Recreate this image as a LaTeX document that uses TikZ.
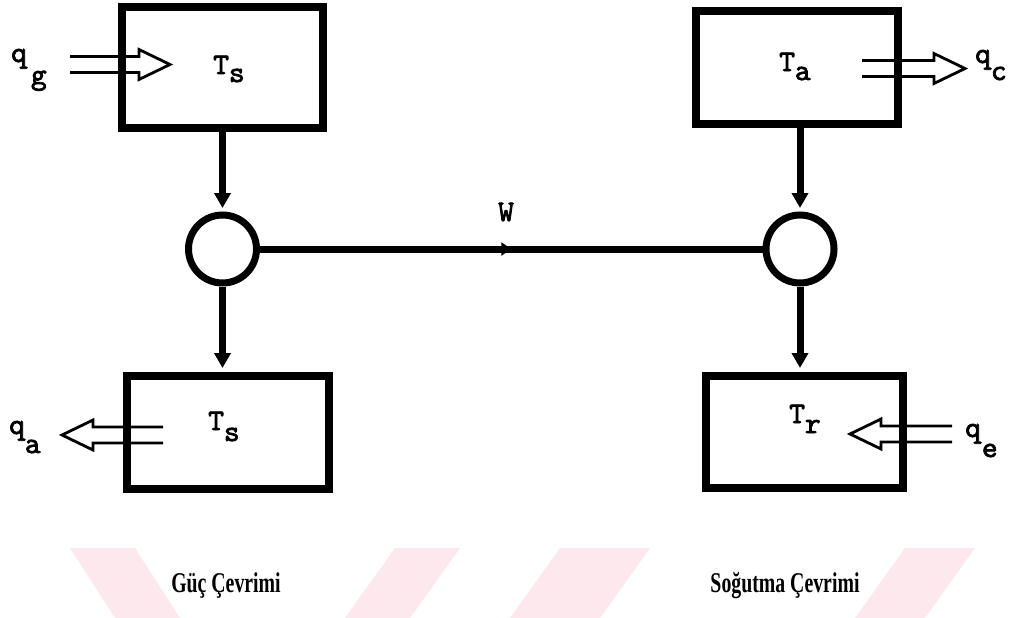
\documentclass[tikz,border=0pt]{standalone}
\usepackage{fontspec}
\usepackage{graphicx}
\setmainfont{Liberation Serif}
\newfontfamily\symfont{lmmono10-regular.otf}[FakeBold=2.5]
\usetikzlibrary{arrows.meta,calc,decorations.markings}
\definecolor{wm}{RGB}{253,232,237}
\newcommand\hollowarrow[3]{% #1 tail, #2 tip, #3 = 1 right, -1 left
  \draw[heat] ($(#1)+(0,-8)$) -- ($(#2)+({-31*#3},-8)$) -- ($(#2)+({-31*#3},-15)$) -- (#2)
    -- ($(#2)+({-31*#3},15)$) -- ($(#2)+({-31*#3},8)$) -- ($(#1)+(0,8)$);}
\begin{document}
\begin{tikzpicture}[x=1pt,y=-1pt,
  box/.style={draw,line width=8pt,rectangle,inner sep=0pt},
  ring/.style={draw,line width=7pt,circle,inner sep=0pt,minimum size=68pt},
  flow/.style={line width=7pt,-{Triangle[width=16pt,length=15pt]}},
  heat/.style={line width=2.8pt,line join=miter},
  sym/.style={font=\fontsize{30}{30}\selectfont\symfont,inner sep=0pt,anchor=base west},
  captxt/.style={font=\fontsize{22}{26}\selectfont\bfseries,inner sep=0pt}]
\useasboundingbox (0,0) rectangle (1014,618);
% watermark band
\fill[wm] (70,548) -- (135,548) -- (180,618) -- (115,618) -- cycle;
\fill[wm] (395,548) -- (460,548) -- (410,618) -- (345,618) -- cycle;
\fill[wm] (560,548) -- (650,548) -- (600,618) -- (510,618) -- cycle;
\fill[wm] (905,548) -- (975,548) -- (925,618) -- (855,618) -- cycle;
% boxes
\node[box,minimum width=201pt,minimum height=121pt] (tl) at (222.5,67.5) {};
\node[box,minimum width=202pt,minimum height=113pt] (bl) at (228,432.5) {};
\node[box,minimum width=202pt,minimum height=113pt] (tr) at (797,67.5) {};
\node[box,minimum width=197pt,minimum height=112pt] (br) at (804.5,432) {};
% rings
\node[ring] (cl) at (222.5,249) {};
\node[ring] (cr) at (800,249) {};
% box labels
\node[sym] (tsa) at (213,74) {T\raisebox{-8pt}{s}};
\node[sym] (tsb) at (208,430) {T\raisebox{-11pt}{s}};
\node[sym] (ta) at (779,71) {T\raisebox{-9pt}{a}};
\node[sym] (trr) at (789,423) {T\raisebox{-10pt}{r}};
% heat labels
\node[sym] (qg) at (11,62) {q\kern4pt\raisebox{-22pt}{g}};
\node[sym] (qa) at (9,434) {q\kern0pt\raisebox{-19pt}{a}};
\node[sym] (qc) at (975,63) {q\raisebox{-17pt}{c}};
\node[sym] (qe) at (965,437) {q\kern1pt\raisebox{-20pt}{e}};
\node[sym,anchor=center] (w) at (506,212) {W};
% heat arrows
\coordinate (qgt) at (70,64.5);  \coordinate (qgh) at (170,64.5);
\coordinate (qct) at (862,68.5); \coordinate (qch) at (965,68.5);
\coordinate (qat) at (163,435);  \coordinate (qah) at (62,435);
\coordinate (qet) at (952,434);  \coordinate (qeh) at (850,434);
\hollowarrow{qgt}{qgh}{1}
\hollowarrow{qct}{qch}{1}
\hollowarrow{qat}{qah}{-1}
\hollowarrow{qet}{qeh}{-1}
% flows
\draw[flow,shorten >=3.5pt] (cl.north |- tl.south) -- (cl.north);
\draw[flow,shorten >=4pt] (cl.south) -- (cl.south |- bl.north);
\draw[flow,shorten >=3.5pt] (cr.north |- tr.south) -- (cr.north);
\draw[flow,shorten >=4pt] (cr.south) -- (cr.south |- br.north);
\draw[line width=7pt,postaction={decorate},decoration={markings,
  mark=at position 0.5 with {\arrow{Triangle[width=13pt,length=10pt]}}}] (cl.east) -- (cr.west);
% captions
\node[captxt] (gc) at (226,586) {\scalebox{0.9}[1.3]{Güç Çevrimi}};
\node[captxt] (sc) at (785,586) {\scalebox{0.9}[1.3]{Soğutma Çevrimi}};
\end{tikzpicture}
\end{document}
